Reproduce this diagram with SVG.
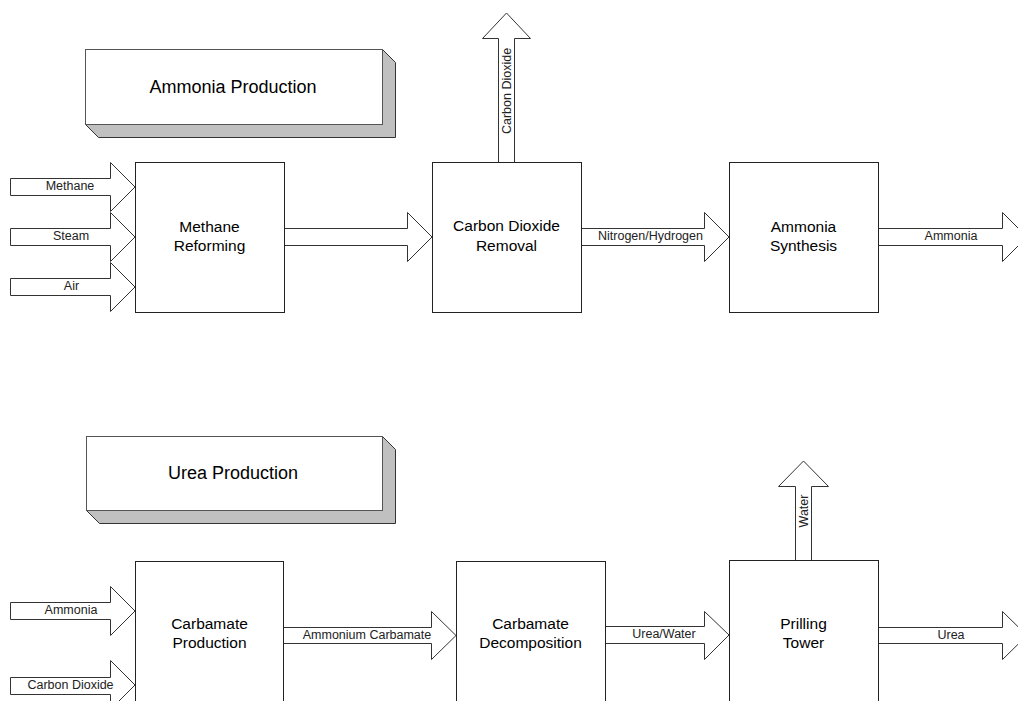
<svg xmlns="http://www.w3.org/2000/svg" width="1018" height="701" viewBox="0 0 1018 701">
<style>
.box{fill:#fff;stroke:#222;stroke-width:1}
.arr{fill:#fff;stroke:#333;stroke-width:1;stroke-linejoin:miter}
.face{fill:#fff;stroke:#555;stroke-width:1}
.side{fill:#c0c0c0;stroke:#333;stroke-width:1}
.nt{font-family:"Liberation Sans",Arial,sans-serif;font-size:15.5px;fill:#000;text-anchor:middle}
.tt{font-family:"Liberation Sans",Arial,sans-serif;font-size:18px;fill:#000;text-anchor:middle}
.lt{font-family:"Liberation Sans",Arial,sans-serif;font-size:12.5px;fill:#222;text-anchor:middle}
</style>
<rect width="1018" height="701" fill="#fff"/>

<g id="title-ammonia">
<path class="side" d="M382.5,49.5 L395.5,62.5 V137.5 H98.5 L85.5,124.5 H382.5 Z"/>
<rect class="face" x="85.5" y="49.5" width="297" height="75"/>
<text class="tt" x="233" y="93">Ammonia Production</text>
</g>

<g id="title-urea">
<path class="side" d="M382.5,436.5 L395.5,449.5 V523.5 H99.5 L86.5,510.5 H382.5 Z"/>
<rect class="face" x="86.5" y="436.5" width="296" height="74"/>
<text class="tt" x="233" y="479">Urea Production</text>
</g>

<g id="connectors">
<!-- inputs top -->
<path class="arr" d="M10.5,178.5 H110.5 V162.5 L135,187 L110.5,211.5 V195.5 H10.5 Z"/>
<path class="arr" d="M10.5,228.5 H110.5 V212.5 L135,237 L110.5,261.5 V245.5 H10.5 Z"/>
<path class="arr" d="M10.5,278.5 H110.5 V262.5 L135,287 L110.5,311.5 V295.5 H10.5 Z"/>
<!-- methane reforming to co2 removal -->
<path class="arr" d="M284.5,228.5 H407.5 V212.5 L432,237 L407.5,261.5 V245.5 H284.5"/>
<!-- co2 removal to ammonia synthesis -->
<path class="arr" d="M581.5,228.5 H704.5 V212.5 L729,237 L704.5,261.5 V245.5 H581.5"/>
<!-- ammonia out -->
<path class="arr" d="M878.5,228.5 H1002.5 V212.5 L1027,237 L1002.5,261.5 V245.5 H878.5"/>
<!-- co2 up -->
<path class="arr" d="M498.5,162 V38.5 H482.5 L506.5,13 L530.5,38.5 H514.5 V162"/>

<!-- inputs bottom -->
<path class="arr" d="M10.5,602.5 H110.5 V586.5 L135,611 L110.5,635.5 V619.5 H10.5 Z"/>
<path class="arr" d="M10.5,677.5 H110.5 V660.5 L135,685 L110.5,709.5 V694.5 H10.5 Z"/>
<!-- carbamate production to decomposition -->
<path class="arr" d="M283.5,627.5 H431.5 V611.5 L456,635.5 L431.5,659.5 V643.5 H283.5"/>
<!-- decomposition to prilling -->
<path class="arr" d="M605.5,626.5 H704.5 V611.5 L729,635 L704.5,659.5 V643.5 H605.5"/>
<!-- urea out -->
<path class="arr" d="M878.5,627.5 H1002.5 V611.5 L1027,635.5 L1002.5,659.5 V643.5 H878.5"/>
<!-- water up -->
<path class="arr" d="M795.5,560 V486.5 H778.5 L803.5,461 L828.5,486.5 H811.5 V560"/>

<text class="lt" x="70" y="190">Methane</text>
<text class="lt" x="71" y="240">Steam</text>
<text class="lt" x="71.5" y="290">Air</text>
<text class="lt" x="650.5" y="240">Nitrogen/Hydrogen</text>
<text class="lt" x="951" y="240">Ammonia</text>
<text class="lt" transform="translate(510.5,91) rotate(-90)" x="0" y="0">Carbon Dioxide</text>
<text class="lt" x="71" y="614">Ammonia</text>
<text class="lt" x="70.5" y="689">Carbon Dioxide</text>
<text class="lt" x="367" y="639">Ammonium Carbamate</text>
<text class="lt" x="664" y="638">Urea/Water</text>
<text class="lt" x="951" y="639">Urea</text>
<text class="lt" transform="translate(808,511) rotate(-90)" x="0" y="0">Water</text>
</g>

<g id="methane-reforming">
<rect class="box" x="135.5" y="162.5" width="149" height="150"/>
<text class="nt" x="209.5" y="232">Methane</text>
<text class="nt" x="209.5" y="251">Reforming</text>
</g>

<g id="co2-removal">
<rect class="box" x="432.5" y="162.5" width="149" height="150"/>
<text class="nt" x="506.5" y="231">Carbon Dioxide</text>
<text class="nt" x="506.5" y="251">Removal</text>
</g>

<g id="ammonia-synthesis">
<rect class="box" x="729.5" y="162.5" width="149" height="150"/>
<text class="nt" x="803.5" y="232">Ammonia</text>
<text class="nt" x="803.5" y="251">Synthesis</text>
</g>

<g id="carbamate-production">
<rect class="box" x="135.5" y="561.5" width="148" height="150"/>
<text class="nt" x="209.5" y="629">Carbamate</text>
<text class="nt" x="209.5" y="648">Production</text>
</g>

<g id="carbamate-decomposition">
<rect class="box" x="456.5" y="561.5" width="149" height="150"/>
<text class="nt" x="530.5" y="629">Carbamate</text>
<text class="nt" x="530.5" y="648">Decomposition</text>
</g>

<g id="prilling-tower">
<rect class="box" x="729.5" y="560.5" width="149" height="150"/>
<text class="nt" x="803.5" y="629">Prilling</text>
<text class="nt" x="803.5" y="648">Tower</text>
</g>
</svg>
